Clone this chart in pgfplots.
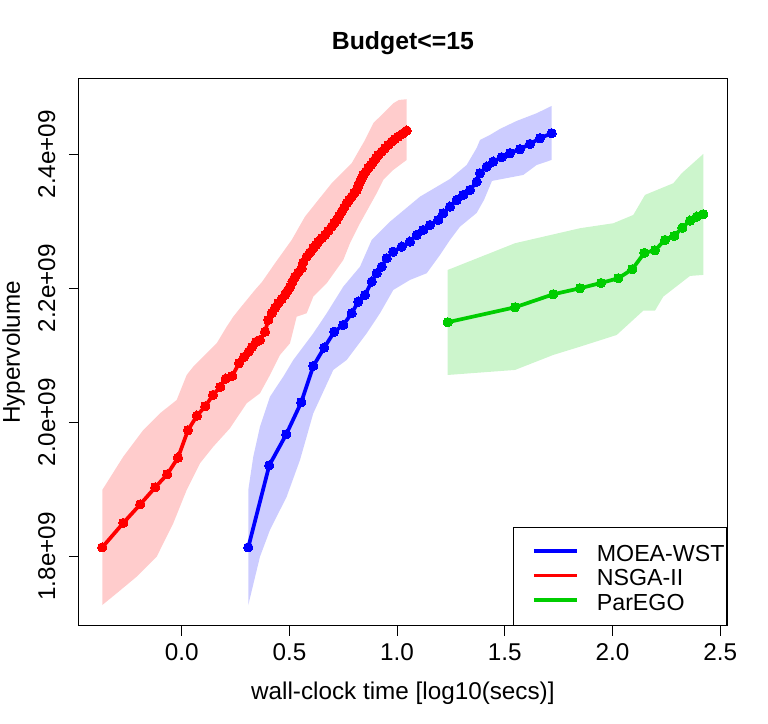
\documentclass[border=0pt]{standalone}
\usepackage{fontspec}
\setmainfont{Liberation Sans}
\usepackage{pgfplots}
\pgfplotsset{compat=1.18}
\definecolor{bandred}{RGB}{255,204,204}
\definecolor{bandblue}{RGB}{204,204,255}
\definecolor{bandgreen}{RGB}{204,245,204}
\definecolor{lgreen}{RGB}{0,205,0}
\begin{document}
\begin{tikzpicture}
\useasboundingbox (0,0) rectangle (576pt,543pt);
\begin{axis}[
  at={(58.875pt,73.5pt)}, anchor=south west,
  scale only axis, width=486.6pt, height=410.5pt,
  xmin=-0.479, xmax=2.533, ymin=1.696, ymax=2.5128,
  axis line style={line width=0.75pt},
  tick align=outside, major tick length=7.2pt,
  tick style={line width=0.75pt, black},
  xtick pos=bottom, ytick pos=left,
  xtick={0,0.5,1,1.5,2,2.5}, xticklabels={0.0,0.5,1.0,1.5,2.0,2.5},
  ytick={1.8,2.0,2.2,2.4}, yticklabels={1.8e+09,2.0e+09,2.2e+09,2.4e+09},
  every x tick label/.style={anchor=base, yshift=-19.05pt, font=\fontsize{18.2}{20}\selectfont},
  every y tick label/.style={xshift=-10.4pt, rotate=90, anchor=base, font=\fontsize{18.2}{20}\selectfont},
  title={Budget<=15},
  every axis title/.style={at={(axis description cs:0.5,1)}, anchor=base, yshift=22pt, font=\bfseries\fontsize{18.6}{22}\selectfont},
  xlabel={wall-clock time [log10(secs)]},
  every axis x label/.style={at={(axis description cs:0.5,0)}, anchor=base, yshift=-55.5pt, font=\fontsize{18.2}{20}\selectfont},
  ylabel={Hypervolume},
  every axis y label/.style={at={(axis description cs:0,0.5)}, xshift=-43.9pt, rotate=90, anchor=base, font=\fontsize{18.2}{20}\selectfont},
  legend style={at={(axis description cs:1,0)}, anchor=south east, draw=black, line width=0.75pt,
    inner xsep=1.75pt, inner ysep=9.05pt, row sep=0pt, column sep=0pt,
    font=\fontsize{17.4}{18.4}\selectfont,
    nodes={inner sep=0pt, text height=15.95pt, text depth=2.45pt, anchor=base west}},
  legend image code/.code={\path (0pt,0pt) (58.2pt,0pt); \draw[line width=2.5pt] (12.25pt,7.5pt) -- (44.5pt,7.5pt);},
]
% bands
\addplot[draw=none, fill=bandred, forget plot] coordinates {
(-0.3686,1.8990) (-0.2711,1.9487) (-0.1783,1.9885) (-0.1007,2.0134) (-0.0232,2.0333)
(0.0232,2.0706) (0.0539,2.0830) (0.1003,2.0979) (0.1625,2.1179) (0.2089,2.1427)
(0.2396,2.1576) (0.2707,2.1702) (0.3403,2.1975) (0.3728,2.2094) (0.4331,2.2373)
(0.5107,2.2721) (0.5724,2.3069) (0.6342,2.3318) (0.6964,2.3567) (0.7892,2.3866)
(0.8510,2.4213) (0.8895,2.4463) (0.9359,2.4612) (0.9824,2.4761) (1.0088,2.4810)
(1.0446,2.4821)
(1.0446,2.3915) (0.9824,2.3766) (0.9359,2.3616) (0.9053,2.3418) (0.8278,2.2970)
(0.7813,2.2672) (0.7502,2.2422) (0.6732,2.2075) (0.6110,2.1875) (0.5803,2.1627)
(0.5339,2.1576) (0.5028,2.1179) (0.4564,2.1005) (0.4099,2.0706) (0.3635,2.0433)
(0.3018,2.0284) (0.2242,1.9911) (0.1467,1.9636) (0.0850,1.9388) (0.0232,1.8990)
(-0.0390,1.8493) (-0.1161,1.7994) (-0.2089,1.7696) (-0.3018,1.7448) (-0.3686,1.7273)
};
\addplot[draw=none, fill=bandblue, forget plot] coordinates {
(0.3092,1.8990) (0.3324,1.9487) (0.3635,1.9934) (0.4099,2.0382) (0.4717,2.0681)
(0.5181,2.0930) (0.6110,2.1328) (0.6732,2.1627) (0.7502,2.2024) (0.8278,2.2322)
(0.8821,2.2721) (0.9670,2.2994) (1.1063,2.3367) (1.2456,2.3631) (1.3231,2.3840)
(1.3695,2.4094) (1.3849,2.4213) (1.4313,2.4288) (1.4777,2.4378) (1.5552,2.4497)
(1.6481,2.4612) (1.7177,2.4721)
(1.7177,2.3915) (1.6481,2.3840) (1.5859,2.3691) (1.4406,2.3602) (1.4035,2.3318)
(1.3695,2.3124) (1.2920,2.2919) (1.2456,2.2721) (1.1992,2.2497) (1.1374,2.2224)
(1.0599,2.2124) (0.9824,2.1975) (0.9206,2.1627) (0.8589,2.1328) (0.7660,2.0930)
(0.7038,2.0781) (0.6110,2.0134) (0.5492,1.9437) (0.4875,1.8890) (0.4099,1.8393)
(0.3635,1.7994) (0.3092,1.7273)
};
\addplot[draw=none, fill=bandgreen, forget plot] coordinates {
(1.2349,2.2273) (1.5474,2.2672) (1.8491,2.2896) (2.0037,2.2970) (2.0966,2.3094)
(2.1509,2.3393) (2.2823,2.3567) (2.3213,2.3716) (2.4216,2.4004)
(2.4216,2.2199) (2.3598,2.2184) (2.2358,2.1875) (2.1973,2.1666) (2.1430,2.1666)
(2.0195,2.1303) (1.8491,2.1128) (1.7252,2.1005) (1.5474,2.0781) (1.2349,2.0706)
};
% lines
\addplot[blue, line width=2.8pt, line join=round, mark=*, mark size=3.5pt, mark options={solid, fill=blue, draw=blue, line width=0pt}] coordinates {
(0.3092,1.8134) (0.4067,1.9358) (0.4856,1.9821) (0.5552,2.0299) (0.6110,2.0840)
(0.6620,2.1114) (0.7084,2.1352) (0.7502,2.1452) (0.7892,2.1627) (0.8199,2.1800)
(0.8510,2.1900) (0.8821,2.2099) (0.9053,2.2224) (0.9285,2.2322) (0.9517,2.2448)
(0.9824,2.2546) (1.0214,2.2621) (1.0599,2.2696) (1.0910,2.2796) (1.1216,2.2870)
(1.1527,2.2945) (1.1913,2.3019) (1.2145,2.3119) (1.2456,2.3218) (1.2767,2.3318)
(1.3073,2.3393) (1.3384,2.3467) (1.3695,2.3591) (1.3849,2.3716) (1.4160,2.3815)
(1.4466,2.3890) (1.4856,2.3955) (1.5241,2.4015) (1.5706,2.4075) (1.6170,2.4154)
(1.6634,2.4239) (1.7177,2.4313)
};
\addlegendentry{MOEA-WST}
\addplot[red, line width=2.8pt, line join=round, mark=*, mark size=3.5pt, mark options={solid, fill=red, draw=red, line width=0pt}] coordinates {
(-0.3686,1.8134) (-0.2711,1.8497) (-0.1922,1.8776) (-0.1226,1.9030) (-0.0669,1.9224)
(-0.0172,1.9472) (0.0292,1.9881) (0.0710,2.0099) (0.1096,2.0239) (0.1453,2.0408)
(0.1792,2.0527) (0.2043,2.0651) (0.2349,2.0691) (0.2660,2.0881) (0.2892,2.0975)
(0.3111,2.1054) (0.3264,2.1124) (0.3449,2.1199) (0.3635,2.1228) (0.3867,2.1352)
(0.4020,2.1527) (0.4178,2.1627) (0.4331,2.1706) (0.4485,2.1776) (0.4643,2.1840)
(0.4796,2.1900) (0.4912,2.1960) (0.5028,2.2024) (0.5144,2.2102) (0.5260,2.2173)
(0.5413,2.2236) (0.5571,2.2299) (0.5645,2.2385) (0.5803,2.2472) (0.5956,2.2534)
(0.6110,2.2597) (0.6226,2.2646) (0.6342,2.2696) (0.6500,2.2746) (0.6653,2.2796)
(0.6806,2.2858) (0.6964,2.2919) (0.7080,2.2970) (0.7196,2.3019) (0.7312,2.3082)
(0.7428,2.3143) (0.7544,2.3206) (0.7660,2.3269) (0.7776,2.3318) (0.7892,2.3367)
(0.8008,2.3418) (0.8124,2.3467) (0.8199,2.3530) (0.8278,2.3591) (0.8357,2.3642)
(0.8431,2.3691) (0.8547,2.3740) (0.8663,2.3791) (0.8779,2.3840) (0.8895,2.3890)
(0.9011,2.3940) (0.9127,2.3990) (0.9285,2.4039) (0.9438,2.4090) (0.9591,2.4139)
(0.9749,2.4188) (0.9903,2.4228) (1.0056,2.4263) (1.0251,2.4307) (1.0446,2.4352)
};
\addlegendentry{NSGA-II}
\addplot[lgreen, line width=2.8pt, line join=round, mark=*, mark size=3.5pt, mark options={solid, fill=lgreen, draw=lgreen, line width=0pt}] coordinates {
(1.2349,2.1493) (1.5474,2.1716) (1.7252,2.1910) (1.8491,2.2000) (1.9466,2.2079)
(2.0269,2.2149) (2.0919,2.2284) (2.1476,2.2527) (2.1973,2.2567) (2.2438,2.2721)
(2.2869,2.2781) (2.3241,2.2904) (2.3598,2.3009) (2.3909,2.3069) (2.4216,2.3105)
};
\addlegendentry{ParEGO}
\end{axis}
\end{tikzpicture}
\end{document}
